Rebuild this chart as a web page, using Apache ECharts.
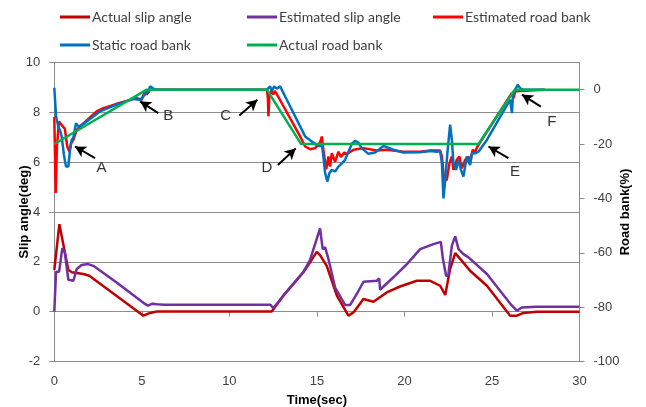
<!DOCTYPE html>
<html>
<head>
<meta charset="utf-8">
<script src="https://cdn.jsdelivr.net/npm/echarts@6/dist/echarts.min.js"></script>
<style>
  html, body { margin: 0; padding: 0; background: #fff; }
  #chart { width: 646px; height: 407px; }
</style>
</head>
<body>
<div id="chart"></div>
<script>
// Slip angle (deg) versus time (sec)
const actualSlipT = [0, 0.29, 0.8, 1.0, 1.66, 2.0, 5.09, 5.47, 5.85, 12.42, 13.09, 14.23, 14.61, 14.99, 15.18, 15.56, 16.14, 16.8, 17.09, 17.66, 18.23, 18.99, 19.75, 20.71, 21.47, 22.04, 22.33, 22.61, 22.9, 23.28, 23.75, 24.71, 26.04, 26.42, 26.8, 27.57, 30];
const actualSlipV = [1.68, 3.51, 1.68, 1.58, 1.51, 1.44, -0.16, -0.05, 0.01, 0.01, 0.64, 1.58, 1.98, 2.4, 2.27, 1.84, 0.64, -0.16, -0.03, 0.51, 0.40, 0.77, 1.01, 1.24, 1.24, 1.04, 0.67, 1.71, 2.35, 2.04, 1.64, 1.04, -0.16, -0.16, -0.05, 0.0, 0.0];

const estSlipT = [0, 0.1, 0.27, 0.46, 0.6, 0.8, 1.09, 1.28, 1.56, 1.94, 2.23, 3.56, 5.18, 5.35, 5.6, 5.85, 6.3, 12.35, 12.5, 12.7, 13.09, 14.23, 14.61, 15.18, 15.33, 15.47, 15.66, 16.04, 16.61, 16.9, 17.28, 17.66, 18.42, 18.56, 18.61, 19.37, 20.14, 20.9, 21.66, 22.08, 22.2, 22.38, 22.5, 22.71, 22.9, 23.09, 23.37, 23.66, 24.71, 26.14, 26.42, 26.7, 27.5, 30];
const estSlipV = [0, 1.6, 1.6, 2.55, 2.38, 1.28, 1.24, 1.71, 1.87, 1.91, 1.84, 1.17, 0.31, 0.24, 0.32, 0.3, 0.28, 0.28, 0.14, 0.3, 0.66, 1.6, 2.08, 3.34, 2.51, 2.58, 2.11, 0.97, 0.27, 0.27, 0.71, 1.2, 1.24, 1.33, 0.88, 1.38, 1.91, 2.51, 2.71, 2.8, 2.11, 1.44, 1.44, 2.65, 3.02, 2.51, 2.31, 2.18, 1.51, 0.24, 0.04, 0.17, 0.2, 0.2];

// Road bank (%) versus time (sec)
const estBankT = [0, 0.08, 0.15, 0.27, 0.36, 0.48, 0.6, 0.74, 0.86, 0.96, 1.09, 1.28, 1.47, 2.42, 2.8, 3.56, 4.71, 4.99, 5.18, 5.28, 5.47, 12.14, 12.2, 12.23, 12.29, 12.4, 12.51, 12.6, 13.09, 14.04, 14.33, 14.61, 14.9, 15.14, 15.23, 15.28, 15.37, 15.53, 15.66, 15.75, 15.85, 16.04, 16.23, 16.37, 16.56, 16.71, 17.09, 17.66, 18.42, 18.99, 19.94, 20.9, 21.47, 22.04, 22.14, 22.27, 22.42, 22.57, 22.71, 22.8, 22.99, 23.14, 23.28, 23.47, 23.66, 23.75, 23.9, 24.04, 24.17, 26.14, 26.23, 26.33, 26.42, 28];
const estBankV = [-10, -38, -21, -11.7, -11.7, -13.5, -14.3, -20.9, -22.8, -19.7, -18.5, -14.8, -13.5, -8.0, -6.8, -5.2, -3.1, -3.7, -0.6, -1.8, 0, 0, -3, -9.8, -2, -0.5, -1.8, -0.4, -6.1, -17.2, -20.9, -21.9, -21.5, -19.7, -18.5, -17.2, -22.1, -29.3, -24.6, -28.3, -23.4, -26.5, -22.8, -24.8, -23.1, -23.7, -22.1, -21.5, -22.4, -22.1, -22.8, -22.8, -22.4, -22.4, -24.6, -33.2, -33.2, -27.1, -24.6, -29.5, -25.8, -24.6, -28.9, -25.8, -24.6, -27.1, -22.1, -22.8, -20.9, -1.2, -3.1, -0.6, 0, 0];

const staticBankT = [0, 0.04, 0.1, 0.23, 0.35, 0.42, 0.55, 0.67, 0.8, 0.9, 0.99, 1.09, 1.24, 1.37, 1.56, 2.61, 3.56, 4.51, 4.9, 5.18, 5.28, 5.38, 5.47, 5.66, 5.9, 12.14, 12.33, 12.42, 12.56, 12.71, 12.9, 13.28, 14.33, 14.71, 14.99, 15.18, 15.28, 15.37, 15.47, 15.6, 15.71, 15.85, 16.04, 16.23, 16.42, 16.61, 16.8, 17.0, 17.18, 17.37, 17.56, 17.94, 18.32, 18.8, 19.37, 19.94, 20.9, 21.47, 21.85, 22.04, 22.14, 22.23, 22.33, 22.47, 22.61, 22.71, 22.8, 22.95, 23.09, 23.23, 23.37, 23.56, 23.75, 23.85, 24.04, 24.23, 24.71, 26.04, 26.14, 26.2, 26.33, 26.47, 26.61, 26.8, 28];
const staticBankV = [0.7, 0.6, -9.8, -13.5, -15.4, -17.2, -24, -28.3, -28.3, -22.1, -18.5, -17.6, -12.3, -13.5, -13.1, -8.0, -5.5, -3.4, -3.7, -1.8, 0, -1, 1.2, 0.4, 0, 0, 1.2, -0.5, 1.2, 0.4, 1.2, -3.7, -17.2, -19.1, -20.3, -20.9, -19.7, -24.6, -30.7, -33.8, -30.7, -29.5, -30.1, -28.3, -27.1, -25.8, -22.8, -19.9, -18.8, -19.5, -21.5, -23.6, -23.1, -20.7, -22.1, -23.1, -23.0, -22.6, -22.8, -22.6, -27.1, -40, -33.2, -22.1, -12.9, -18.5, -27.1, -29.5, -25.8, -29.5, -32.0, -24.6, -27.7, -23.5, -23.4, -22.8, -18.5, -3.7, -8.6, -2, 0, 1.8, 0.5, 0, 0];

const actualBankT = [0, 5.28, 12.14, 14.1, 24.23, 26.3, 30];
const actualBankV = [-20, 0, 0, -20, -20, 0, 0];

// Annotation arrows (road bank coordinates): tail -> head, and letter position
const noteNames = ['A', 'B', 'C', 'D', 'E', 'F'];
const noteTail = [[2.33, -25.2], [5.94, -8.6], [10.57, -9.5], [12.77, -27.7], [25.94, -25.2], [27.79, -6.2]];
const noteHead = [[1.18, -20.9], [4.90, -4.3], [11.6, -3.7], [13.79, -21.6], [24.8, -20.9], [26.71, -1.8]];
const noteText = [[2.70, -28.9], [6.51, -9.8], [9.79, -9.8], [12.14, -28.9], [26.32, -30.4], [28.42, -11.7]];

const bankTicks = [-100, -80, -60, -40, -20, 0];

const FONT = '"Liberation Sans", Arial, sans-serif';
const LEGEND_FONT = 'Lato, "Liberation Sans", Arial, sans-serif';
const TEXT = '#404040';
const GRID = '#8c8c8c';

const zip = (t, v) => t.map((x, i) => [x, v[i]]);

const seriesDefs = [
  { name: 'Actual slip angle', t: actualSlipT, v: actualSlipV, color: '#C00000', axis: 0 },
  { name: 'Estimated slip angle', t: estSlipT, v: estSlipV, color: '#7030A0', axis: 0 },
  { name: 'Estimated road bank', t: estBankT, v: estBankV, color: '#FF0000', axis: 1 },
  { name: 'Static road bank', t: staticBankT, v: staticBankV, color: '#0070C0', axis: 1 },
  { name: 'Actual road bank', t: actualBankT, v: actualBankV, color: '#00B050', axis: 1 }
];

const series = seriesDefs.map(d => ({
  name: d.name,
  type: 'line',
  yAxisIndex: d.axis,
  data: zip(d.t, d.v),
  symbol: 'none',
  showSymbol: false,
  lineStyle: { color: d.color, width: 2.5 },
  itemStyle: { color: d.color },
  emphasis: { disabled: true },
  animation: false
}));

// Arrows and letters drawn on the road bank axis
const last = series[series.length - 1];
last.markLine = {
  silent: true,
  animation: false,
  symbol: ['none', 'arrow'],
  symbolSize: [9, 11],
  label: { show: false },
  lineStyle: { color: '#000', width: 2, type: 'solid' },
  emphasis: { disabled: true },
  data: noteTail.map((p, i) => [{ coord: p }, { coord: noteHead[i] }])
};
last.markPoint = {
  silent: true,
  animation: false,
  symbol: 'circle',
  symbolSize: 1,
  itemStyle: { color: 'rgba(0,0,0,0)' },
  label: { show: true, position: 'inside', formatter: '{b}', color: '#333', fontSize: 15, fontFamily: FONT },
  data: noteNames.map((n, i) => ({ name: n, coord: noteText[i] }))
};

const legendPos = [[60, 10], [247, 10], [433, 10], [60, 38], [247, 38]];
const legends = seriesDefs.map((d, i) => ({
  data: [d.name],
  left: legendPos[i][0],
  top: legendPos[i][1],
  icon: 'rect',
  itemWidth: 30,
  itemHeight: 3,
  itemGap: 0,
  padding: 0,
  selectedMode: false,
  textStyle: { color: TEXT, fontSize: 14, fontFamily: LEGEND_FONT, padding: [0, 0, 0, -3] }
}));

const nameStyle = { color: '#000', fontSize: 13, fontWeight: 'bold', fontFamily: FONT };

const chart = echarts.init(document.getElementById('chart'), null, { renderer: 'canvas' });
chart.setOption({
  backgroundColor: '#fff',
  animation: false,
  legend: legends,
  grid: { left: 54.3, right: 66.5, top: 62.5, bottom: 45.5, containLabel: false, outerBoundsMode: 'none' },
  xAxis: {
    type: 'value',
    min: 0, max: 30, interval: 5,
    name: 'Time(sec)',
    nameLocation: 'middle',
    nameGap: 32,
    nameMoveOverlap: false,
    nameTextStyle: nameStyle,
    axisLine: { show: true, lineStyle: { color: GRID, width: 1 } },
    axisTick: { show: true, length: 5, lineStyle: { color: GRID } },
    axisLabel: { color: TEXT, fontSize: 13, fontFamily: FONT, margin: 13 },
    splitLine: { show: false }
  },
  yAxis: [
    {
      type: 'value',
      min: -2, max: 10, interval: 2,
      name: 'Slip angle(deg)',
      nameLocation: 'middle',
      nameRotate: 90,
      nameGap: 23,
      nameMoveOverlap: false,
      nameTextStyle: nameStyle,
      axisLine: { show: true, lineStyle: { color: GRID, width: 1 } },
      axisTick: { show: true, length: 5, lineStyle: { color: GRID } },
      axisLabel: { color: TEXT, fontSize: 13, fontFamily: FONT, margin: 14 },
      splitLine: { show: true, lineStyle: { color: GRID, width: 1 } }
    },
    {
      type: 'value',
      min: -100, max: 10,
      position: 'right',
      name: 'Road bank(%)',
      nameLocation: 'middle',
      nameRotate: 90,
      nameGap: 39,
      nameMoveOverlap: false,
      nameTextStyle: nameStyle,
      axisLine: { show: true, lineStyle: { color: GRID, width: 1 } },
      axisTick: { show: true, length: 5, customValues: bankTicks, lineStyle: { color: GRID } },
      axisLabel: { color: TEXT, fontSize: 13, fontFamily: FONT, margin: 14, customValues: bankTicks },
      splitLine: { show: false }
    }
  ],
  series: series
});
</script>
</body>
</html>
